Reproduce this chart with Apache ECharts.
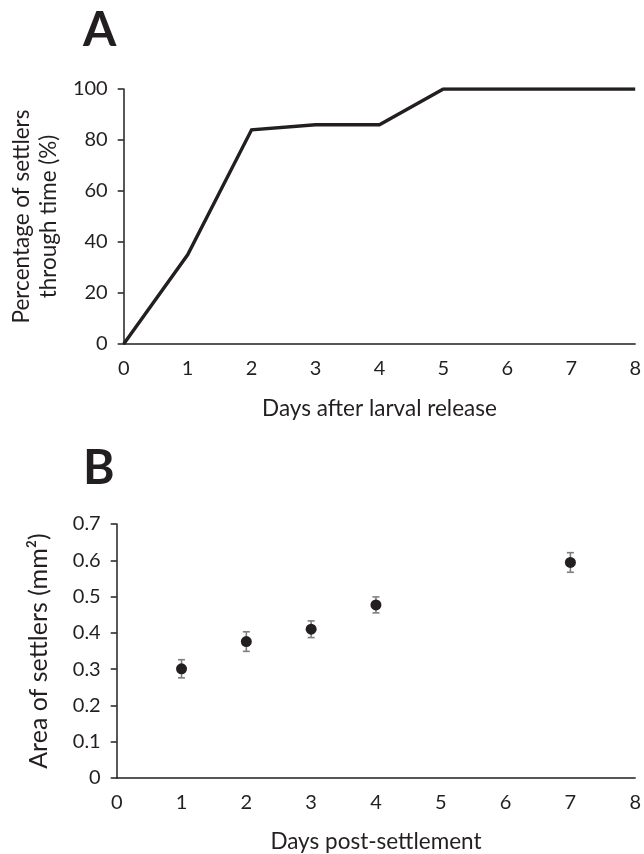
<!DOCTYPE html>
<html>
<head>
<meta charset="utf-8">
<script src="https://cdn.jsdelivr.net/npm/echarts@6/dist/echarts.min.js"></script>
<style>
html,body{margin:0;padding:0;background:#fff;}
#chart{width:644px;height:854px;}
</style>
</head>
<body>
<div id="chart"></div>
<script>
// Panel A: cumulative settlement
const daysA = [0, 1, 2, 3, 4, 5, 6, 7, 8];
const pctSettlers = [0, 35, 84, 86, 86, 100, 100, 100, 100];
const yTicksA = [0, 20, 40, 60, 80, 100];

// Panel B: area of settlers (mean ± error)
const daysB = [1, 2, 3, 4, 7];
const areaMean = [0.301, 0.376, 0.410, 0.477, 0.594];
const areaErr = [0.025, 0.027, 0.023, 0.022, 0.027];
const xTicks = [0, 1, 2, 3, 4, 5, 6, 7, 8];

const FONT = 'Lato';
const INK = '#231f20';

const chart = echarts.init(document.getElementById('chart'), null, {renderer: 'canvas'});

const axisCommonX = {
  type: 'value', min: 0, max: 8, interval: 1,
  axisLine: {show: true, lineStyle: {color: INK, width: 1.5}},
  axisTick: {show: false},
  splitLine: {show: false},
  axisLabel: {color: INK, fontFamily: FONT, fontSize: 20, margin: 15},
  nameLocation: 'middle',
  nameTextStyle: {color: INK, fontFamily: FONT, fontSize: 22.5}
};

const option = {
  animation: false,
  backgroundColor: '#fff',
  title: [
    {text: 'A', left: 78, top: 2, textStyle: {fontFamily: FONT, fontWeight: 'bold', fontSize: 48, color: INK}},
    {text: 'B', left: 78, top: 440, textStyle: {fontFamily: FONT, fontWeight: 'bold', fontSize: 48, color: INK}}
  ],
  grid: [
    {left: 122.5, right: 6.5, top: 89, height: 255},
    {left: 116.7, right: 7.3, top: 524, height: 255}
  ],
  xAxis: [
    Object.assign({}, axisCommonX, {gridIndex: 0, name: 'Days after larval release', nameGap: 53}),
    Object.assign({}, axisCommonX, {gridIndex: 1, name: 'Days post-settlement', nameGap: 52})
  ],
  yAxis: [
    {
      gridIndex: 0, type: 'value', min: 0, max: 100, interval: 20,
      axisLine: {show: true, lineStyle: {color: INK, width: 1.5}},
      axisTick: {show: true, inside: false, length: 6, lineStyle: {color: INK, width: 1.5}},
      splitLine: {show: false},
      axisLabel: {color: INK, fontFamily: FONT, fontSize: 20, margin: 16},
      name: 'Percentage of settlers\nthrough time (%)',
      nameLocation: 'middle', nameRotate: 90, nameGap: 61,
      nameTextStyle: {color: INK, fontFamily: FONT, fontSize: 22.5, lineHeight: 27}
    },
    {
      gridIndex: 1, type: 'value', min: 0, max: 0.7, interval: 0.1,
      axisLine: {show: true, lineStyle: {color: INK, width: 1.5}},
      axisTick: {show: true, inside: false, length: 6, lineStyle: {color: INK, width: 1.5}},
      splitLine: {show: false},
      axisLabel: {color: INK, fontFamily: FONT, fontSize: 20, margin: 16,
        formatter: v => (v === 0 ? '0' : v.toFixed(1))},
      name: 'Area of settlers (mm²)',
      nameLocation: 'middle', nameRotate: 90, nameGap: 65,
      nameTextStyle: {color: INK, fontFamily: FONT, fontSize: 25, lineHeight: 26}
    }
  ],
  series: [
    {
      type: 'line', xAxisIndex: 0, yAxisIndex: 0,
      data: daysA.map((d, i) => [d, pctSettlers[i]]),
      showSymbol: false, symbol: 'none',
      lineStyle: {color: INK, width: 3.4, join: 'miter'},
      z: 5
    },
    {
      type: 'custom', xAxisIndex: 1, yAxisIndex: 1,
      data: daysB.map((d, i) => [d, areaMean[i] - areaErr[i], areaMean[i] + areaErr[i]]),
      renderItem: function (params, api) {
        const lo = api.coord([api.value(0), api.value(1)]);
        const hi = api.coord([api.value(0), api.value(2)]);
        const hw = 3.5;
        const style = {stroke: '#7f7f7f', lineWidth: 1.6, fill: null};
        return {
          type: 'group',
          children: [
            {type: 'line', shape: {x1: lo[0], y1: lo[1], x2: hi[0], y2: hi[1]}, style: style},
            {type: 'line', shape: {x1: lo[0] - hw, y1: lo[1], x2: lo[0] + hw, y2: lo[1]}, style: style},
            {type: 'line', shape: {x1: hi[0] - hw, y1: hi[1], x2: hi[0] + hw, y2: hi[1]}, style: style}
          ]
        };
      },
      z: 3
    },
    {
      type: 'scatter', xAxisIndex: 1, yAxisIndex: 1,
      data: daysB.map((d, i) => [d, areaMean[i]]),
      symbol: 'circle', symbolSize: 11,
      itemStyle: {color: INK, opacity: 1},
      z: 5
    }
  ]
};

chart.setOption(option);
</script>
</body>
</html>
